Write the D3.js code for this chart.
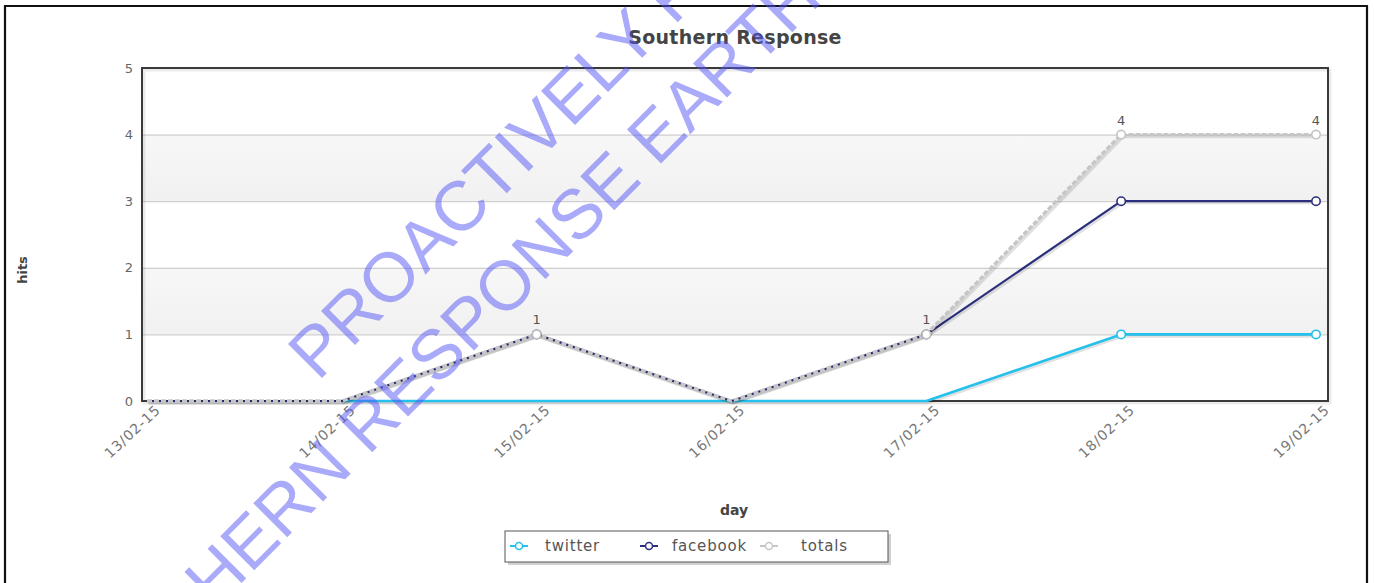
<!DOCTYPE html>
<html><head><meta charset="utf-8">
<script src="https://cdn.jsdelivr.net/npm/d3@7"></script>
<style>
body{margin:0;background:#fff;}
svg{display:block;}
</style></head>
<body>
<svg id="chart" width="1374" height="583"></svg>
<script>
const days = ["13/02-15","14/02-15","15/02-15","16/02-15","17/02-15","18/02-15","19/02-15"];
const twitter = [null,0,0,0,0,1,1];
const facebook = [0,0,1,0,1,3,3];
const totals = [0,0,1,0,1,4,4];
const yTicks = [0,1,2,3,4,5];
const seriesNames = ["twitter","facebook","totals"];
const chartTitle = "Southern Response";
const watermark1 = "PROACTIVELY R";
const watermark2a = "HERN";
const watermark2b = "RESPONSE EARTH";

const svg = d3.select("#chart");
const W = 1374, H = 583;
const plot = {l:142, r:1328, t:68, b:401};

const x = d3.scalePoint().domain(days).range([147, 1316]);
const y = d3.scaleLinear().domain([0,5]).range([plot.b, plot.t]);

// outer frame
svg.append("path").attr("d",`M5,${H+5} L5,6 L1367,6 L1367,${H+5}`)
  .attr("fill","none").attr("stroke","#111").attr("stroke-width",2.2);

const defs = svg.append("defs");
const g1 = defs.append("linearGradient").attr("id","band").attr("x1",0).attr("x2",0).attr("y1",0).attr("y2",1);
g1.append("stop").attr("offset","0%").attr("stop-color","#f7f7f7");
g1.append("stop").attr("offset","100%").attr("stop-color","#f1f1f1");

// bands
const bandPairs = [[3,4],[1,2]];
svg.append("g").selectAll("rect").data(bandPairs).join("rect")
  .attr("x", plot.l).attr("width", plot.r - plot.l)
  .attr("y", d => y(d[1])).attr("height", d => y(d[0]) - y(d[1]))
  .attr("fill","url(#band)");

// gridlines
svg.append("g").selectAll("line").data(yTicks.filter(t => t>0 && t<5)).join("line")
  .attr("x1", plot.l).attr("x2", plot.r)
  .attr("y1", d => y(d)+0.5).attr("y2", d => y(d)+0.5)
  .attr("stroke","#c4c4c4").attr("stroke-width",1);

// plot border
svg.append("rect").attr("x",plot.l+2).attr("y",plot.t+2).attr("width",plot.r-plot.l).attr("height",plot.b-plot.t)
  .attr("fill","none").attr("stroke","rgba(0,0,0,0.08)").attr("stroke-width",3);
svg.append("rect").attr("x",plot.l).attr("y",plot.t).attr("width",plot.r-plot.l).attr("height",plot.b-plot.t)
  .attr("fill","none").attr("stroke","#3a3a3a").attr("stroke-width",2);

// y axis labels
const yAxis = d3.axisLeft(y).tickValues(yTicks).tickSize(0).tickPadding(9).tickFormat(d3.format("d"));
const ya = svg.append("g").attr("transform",`translate(${plot.l},0)`).call(yAxis);
ya.select(".domain").remove();
ya.selectAll("text").attr("font-family","DejaVu Sans, Verdana, sans-serif").attr("font-size",13).attr("fill","#666");

// x axis labels
const xAxis = d3.axisBottom(x).tickSize(0).tickPadding(0);
const xa = svg.append("g").attr("transform",`translate(0,${plot.b})`).call(xAxis);
xa.select(".domain").remove();
xa.selectAll("text")
  .attr("font-family","DejaVu Sans, Verdana, sans-serif").attr("font-size",14).attr("fill","#777")
  .attr("letter-spacing","0.9px")
  .attr("text-anchor","end").attr("dy",null).attr("y",null)
  .attr("transform","translate(14,10) rotate(-43)");

// lines
const line = d3.line().defined(d => d.v !== null).x(d => x(d.day)).y(d => y(d.v));
const mk = arr => days.map((d,i) => ({day:d, v:arr[i]}));
const series = [
  {name:"twitter", data:mk(twitter), color:"#25c0ec", width:2.6, dash:null},
  {name:"facebook", data:mk(facebook), color:"#2c2f7c", width:2.2, dash:null},
  {name:"totals", data:mk(totals), color:"#c6c6c6", width:3.4, dash:"5,2"}
];
const lg = svg.append("g");
series.forEach(s => {
  lg.append("path").datum(s.data).attr("d",line).attr("fill","none")
    .attr("stroke","rgba(0,0,0,0.12)").attr("stroke-width",s.width+1)
    .attr("transform","translate(1.5,1.5)");
  lg.append("path").datum(s.data).attr("d",line).attr("fill","none")
    .attr("stroke",s.color).attr("stroke-width",s.width)
    .attr("stroke-dasharray",s.dash).attr("stroke-linejoin","round");
});
series.forEach(s => {
  lg.append("g").selectAll("circle").data(s.data.filter(d => d.v !== null && d.v > 0)).join("circle")
    .attr("cx", d => x(d.day)).attr("cy", d => y(d.v)).attr("r",4.2)
    .attr("fill","#fff").attr("stroke", s.color).attr("stroke-width",1.6);
});

// point labels for totals
svg.append("g").selectAll("text").data(mk(totals).filter(d => d.v > 0)).join("text")
  .attr("x", d => x(d.day)).attr("y", d => y(d.v) - 10)
  .attr("text-anchor","middle").attr("font-family","DejaVu Sans, Verdana, sans-serif")
  .attr("font-size",13).attr("fill","#555").text(d => d.v);

// title
svg.append("text").attr("x",735).attr("y",44).attr("text-anchor","middle")
  .attr("font-family","DejaVu Sans, Verdana, sans-serif").attr("font-weight","bold")
  .attr("font-size",19).attr("letter-spacing","0.3px").attr("fill","#444").text(chartTitle);

// axis titles
svg.append("text").attr("x",734).attr("y",515).attr("text-anchor","middle")
  .attr("font-family","DejaVu Sans, Verdana, sans-serif").attr("font-weight","bold")
  .attr("font-size",14).attr("fill","#444").text("day");
svg.append("text").attr("transform","translate(27,270) rotate(-90)").attr("text-anchor","middle")
  .attr("font-family","DejaVu Sans, Verdana, sans-serif").attr("font-weight","bold")
  .attr("font-size",13).attr("fill","#444").text("hits");

// legend
const leg = {x:505, y:531, w:383, h:31};
svg.append("rect").attr("x",leg.x+3).attr("y",leg.y+3).attr("width",leg.w).attr("height",leg.h)
  .attr("fill","rgba(0,0,0,0.18)");
svg.append("rect").attr("x",leg.x).attr("y",leg.y).attr("width",leg.w).attr("height",leg.h)
  .attr("fill","#fff").attr("stroke","#555").attr("stroke-width",1);
const legX = [510, 640, 760];
const legTextX = [545, 672, 801];
series.forEach((s,i) => {
  const cy = leg.y + 15;
  svg.append("line").attr("x1",legX[i]).attr("x2",legX[i]+18).attr("y1",cy).attr("y2",cy)
    .attr("stroke",s.color).attr("stroke-width",2);
  svg.append("circle").attr("cx",legX[i]+9).attr("cy",cy).attr("r",3.5)
    .attr("fill","#fff").attr("stroke",s.color).attr("stroke-width",1.5);
  svg.append("text").attr("x",legTextX[i]).attr("y",cy+5)
    .attr("font-family","DejaVu Sans, Verdana, sans-serif").attr("font-size",15)
    .attr("letter-spacing","0.8px").attr("fill","#555").text(s.name);
});

// watermark
const wm = svg.append("g").attr("transform","translate(318,382) rotate(-45)")
  .attr("font-family","Liberation Sans, Arial, sans-serif").attr("font-size",70)
  .attr("fill","rgba(85,85,245,0.5)");
wm.append("text").attr("x",0).attr("y",0).text(watermark1);
wm.append("text").attr("x",-17).attr("y",88).text(watermark2b);
wm.append("text").attr("x",-36).attr("y",88).attr("text-anchor","end").text(watermark2a);
</script>
</body></html>
